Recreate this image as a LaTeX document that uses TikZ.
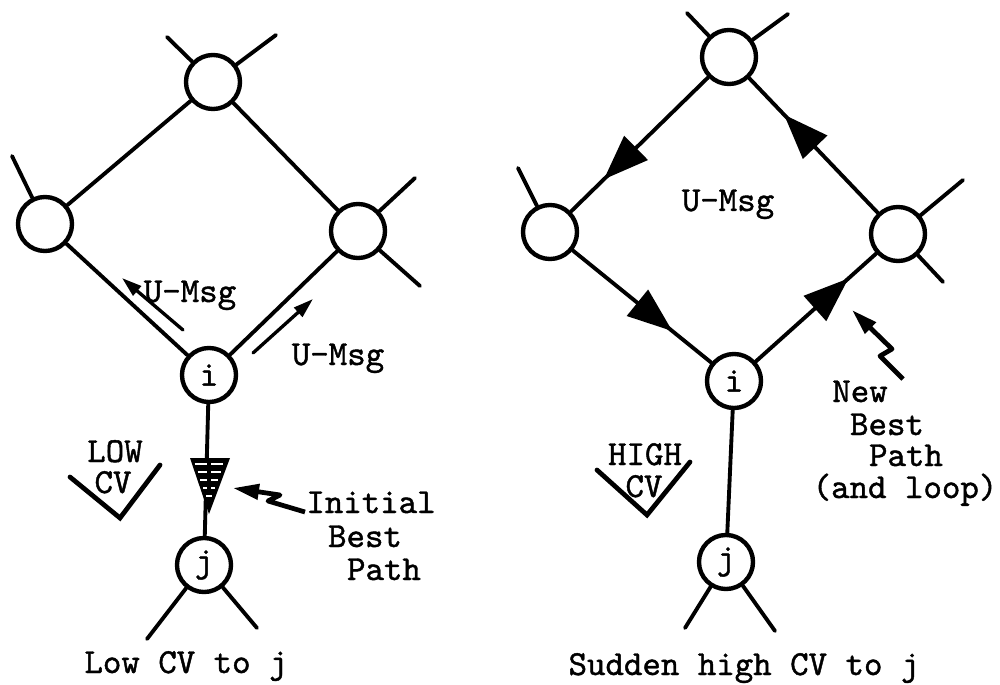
\documentclass[tikz,border=0pt]{standalone}
\usepackage{fontspec}
\newfontfamily\typewriter{Latin Modern Mono}[FakeBold=1.2]
\usetikzlibrary{arrows.meta,decorations.markings}

\begin{document}
\begin{tikzpicture}[x=0.01cm,y=-0.01cm,
  site/.style={circle,draw,line width=1.25pt,minimum size=0.54cm,inner sep=0pt,
    font=\typewriter\fontsize{10}{12}\selectfont},
  link/.style={line width=1.1pt,line cap=round},
  lbl/.style={font=\typewriter\fontsize{10}{12}\selectfont,inner sep=0pt,anchor=base},
  msgarrow/.style={line width=0.95pt,line cap=round,-{Triangle[length=0.2cm,width=0.12cm]}},
  bigtip/.style={postaction={decorate},
    decoration={markings,mark=at position #1 with {\arrow{Triangle[length=0.45cm,width=0.33cm]}}}},
  tick/.style={line width=1.35pt,line cap=round,line join=miter},
  bolt/.style={line width=1.35pt,line join=round,-{Triangle[length=0.26cm,width=0.15cm]}}
]
\useasboundingbox (0,0) rectangle (1000,685);

% ---------- left network: low CV to j ----------
\node[site] (lt) at (213,82) {};
\node[site] (ll) at (45,224) {};
\node[site] (lr) at (358,231) {};
\node[site] (li) at (209,375) {i};
\node[site] (lj) at (204,565) {j};

% loose ends of the links leaving the network
\coordinate (lt1) at (167,37);
\coordinate (lt2) at (276,35);
\coordinate (ll1) at (12,156);
\coordinate (lr1) at (415,178);
\coordinate (lr2) at (420,286);
\coordinate (lj1) at (147,639);
\coordinate (lj2) at (257,628);

\draw[link] (lt) -- (lt1);
\draw[link] (lt) -- (lt2);
\draw[link] (ll) -- (ll1);
\draw[link] (lr) -- (lr1);
\draw[link] (lr) -- (lr2);
\draw[link] (lj) -- (lj1);
\draw[link] (lj) -- (lj2);

\draw[link] (lt) -- (ll);
\draw[link] (lt) -- (lr);
\draw[link] (ll) -- (li);
\draw[link] (lr) -- (li);
\draw[link] (li) -- (lj);

% update messages sent out from i
\coordinate (ma1) at (183,330);
\coordinate (mb1) at (122,278);
\coordinate (ma2) at (253,353);
\coordinate (mb2) at (313,299);
\draw[msgarrow] (ma1) -- (mb1);
\draw[msgarrow] (ma2) -- (mb2);
\node[lbl] (um1) at (190,302) {U-Msg};
\node[lbl] (um2) at (338,365) {U-Msg};

% hatched arrowhead marking the initial best path i -> j
\fill (190,458) -- (230,458) -- (209,514) -- cycle;
\foreach \yy in {464,472,480,488} {
  \pgfmathsetmacro{\hw}{20*(514-\yy)/56}
  \draw[white,line width=0.7pt] ({209-\hw+3.5},\yy) -- (207,\yy);
  \draw[white,line width=0.7pt] (211,\yy) -- ({209+\hw-3.5},\yy);
}
\draw[white,line width=0.7pt] (206,496) -- (212,496);

% low cost check mark
\draw[tick] (70,477) -- (120,518) -- (160,465);
\node[lbl] (lowa) at (115,462) {LOW};
\node[lbl] (lowb) at (113,493) {CV};

% pointer to the initial best path
\coordinate (bl0) at (305,512);
\coordinate (bl1) at (268,501);
\coordinate (bl2) at (280,495);
\coordinate (bl3) at (233,488);
\draw[bolt] (bl0) -- (bl1) -- (bl2) -- (bl3);
\node[lbl] (ib1) at (371,513) {Initial};
\node[lbl] (ib2) at (365,547) {Best};
\node[lbl] (ib3) at (384,580) {Path};

\node[lbl] (cap1) at (186,673) {Low CV to j};

% ---------- right network: sudden high CV to j ----------
\node[site] (rt) at (729,57) {};
\node[site] (rl) at (550,232) {};
\node[site] (rr) at (898,234) {};
\node[site] (ri) at (734,381) {i};
\node[site] (rj) at (726,562) {j};

\coordinate (rt1) at (687,13);
\coordinate (rt2) at (788,14);
\coordinate (rl1) at (518,168);
\coordinate (rr1) at (963,180);
\coordinate (rr2) at (943,282);
\coordinate (rj1) at (685,628);
\coordinate (rj2) at (775,631);

\draw[link] (rt) -- (rt1);
\draw[link] (rt) -- (rt2);
\draw[link] (rl) -- (rl1);
\draw[link] (rr) -- (rr1);
\draw[link] (rr) -- (rr2);
\draw[link] (rj) -- (rj1);
\draw[link] (rj) -- (rj2);

% the routing loop
\draw[link,bigtip=0.76] (rt) -- (rl);
\draw[link,bigtip=0.72] (rl) -- (ri);
\draw[link,bigtip=0.77] (ri) -- (rr);
\draw[link,bigtip=0.73] (rr) -- (rt);
\draw[link] (ri) -- (rj);
\node[lbl] (um3) at (728,211) {U-Msg};

% high cost check mark
\draw[tick] (597,470) -- (647,515) -- (690,462);
\node[lbl] (higha) at (645,465) {HIGH};
\node[lbl] (highb) at (644,497) {CV};

% pointer to the new best path
\coordinate (br0) at (903,379);
\coordinate (br1) at (880,356);
\coordinate (br2) at (892,349);
\coordinate (br3) at (852,310);
\draw[bolt] (br0) -- (br1) -- (br2) -- (br3);
\node[lbl] (nb1) at (860,402) {New};
\node[lbl] (nb2) at (887,435) {Best};
\node[lbl] (nb3) at (906,466) {Path};
\node[lbl] (nb4) at (905,498) {(and loop)};

\node[lbl] (cap2) at (744,675) {Sudden high CV to j};
\end{tikzpicture}
\end{document}
